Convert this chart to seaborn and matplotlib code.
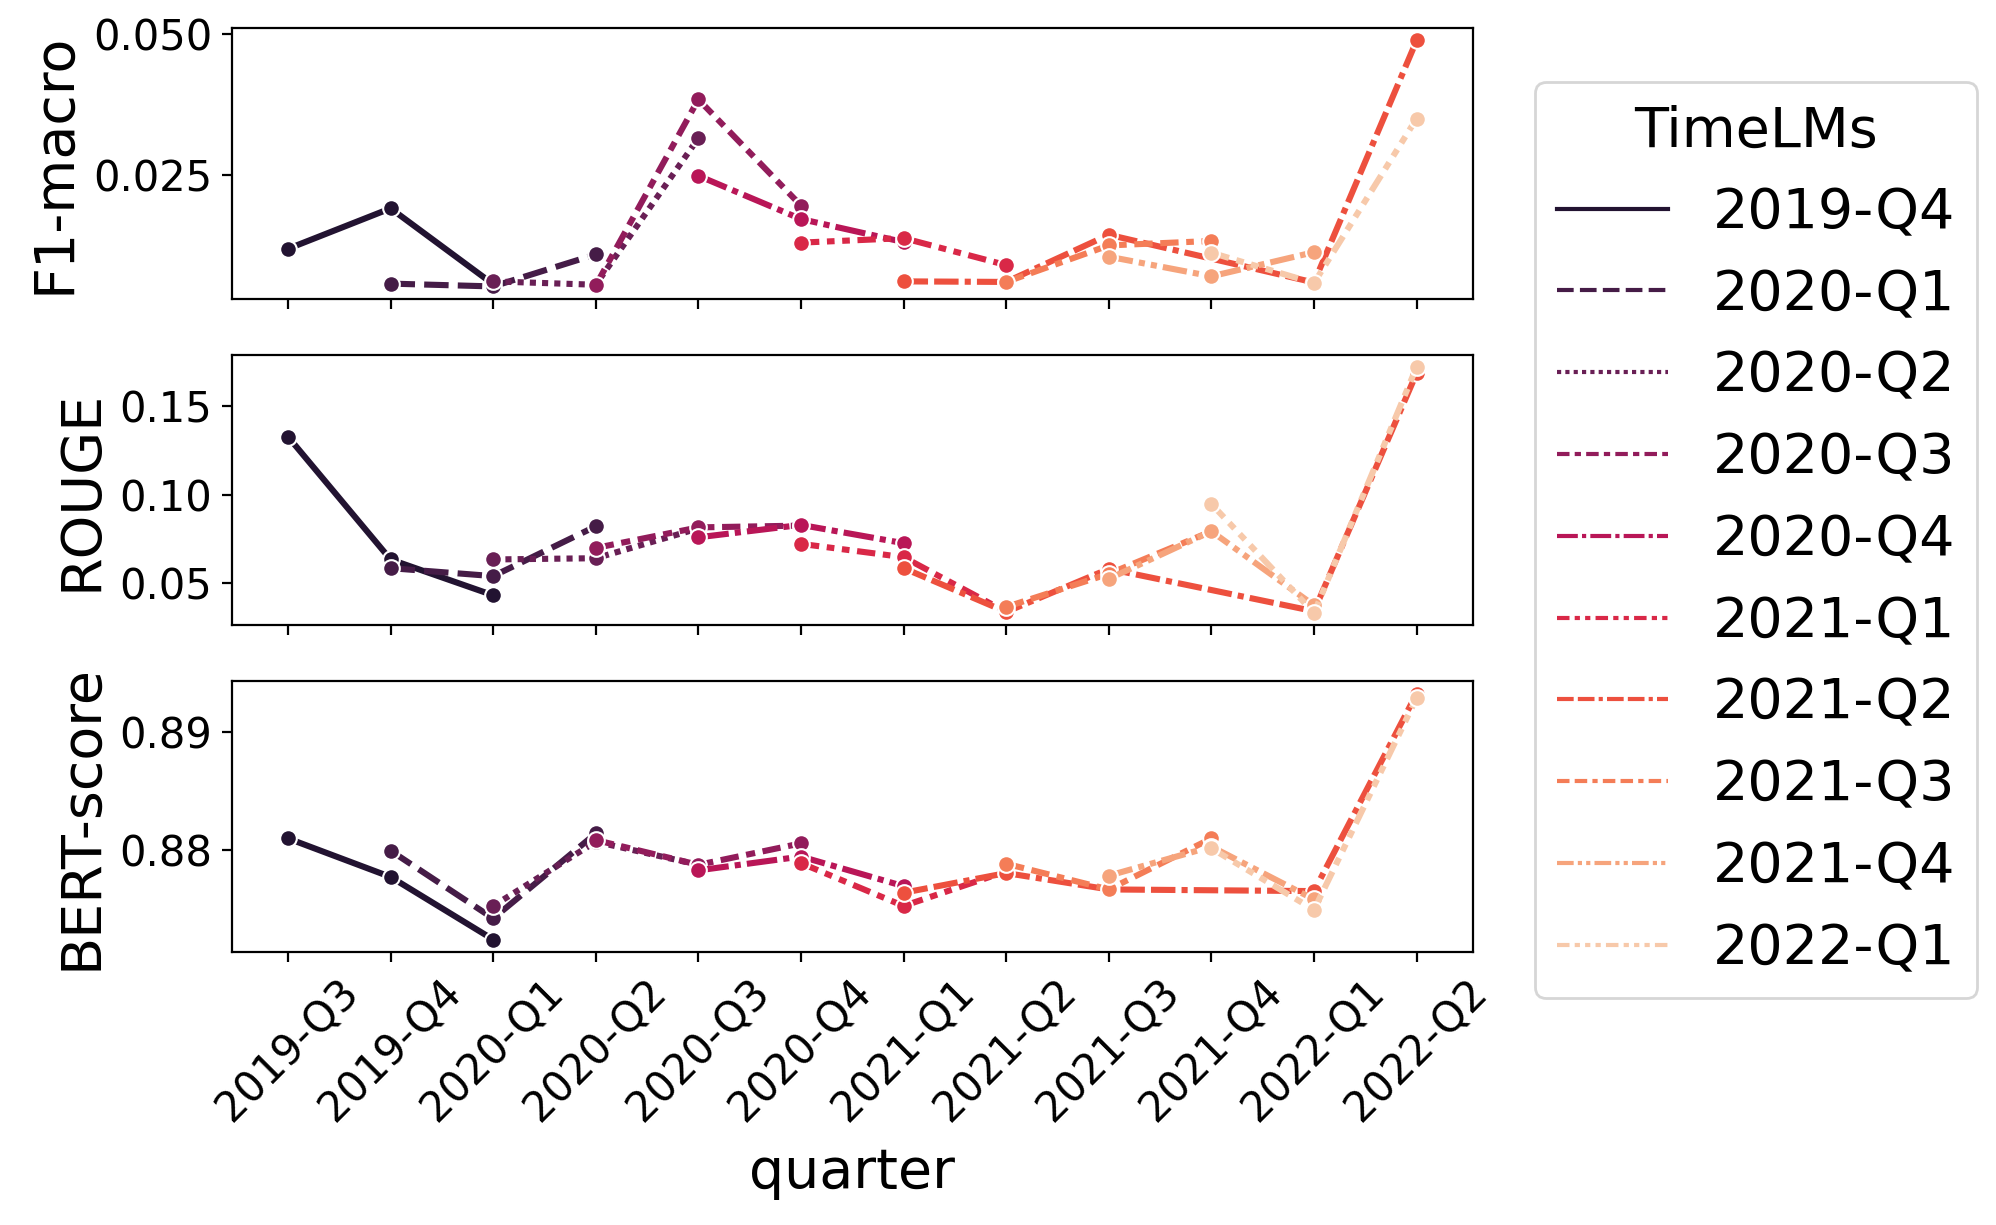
import matplotlib
matplotlib.use("Agg")
import matplotlib.pyplot as plt
import seaborn as sns
import pandas as pd
import numpy as np

# quarters on the x axis
QUARTERS = ['2019-Q3', '2019-Q4', '2020-Q1', '2020-Q2', '2020-Q3', '2020-Q4',
            '2021-Q1', '2021-Q2', '2021-Q3', '2021-Q4', '2022-Q1', '2022-Q2']

# TimeLMs checkpoints (hue / style)
MODELS = ['2019-Q4', '2020-Q1', '2020-Q2', '2020-Q3', '2020-Q4',
          '2021-Q1', '2021-Q2', '2021-Q3', '2021-Q4', '2022-Q1']

# quarters each model was evaluated on
EVAL_QUARTERS = [
    ['2019-Q3', '2019-Q4', '2020-Q1'],
    ['2019-Q4', '2020-Q1', '2020-Q2'],
    ['2020-Q1', '2020-Q2', '2020-Q3'],
    ['2020-Q2', '2020-Q3', '2020-Q4'],
    ['2020-Q3', '2020-Q4', '2021-Q1'],
    ['2020-Q4', '2021-Q1', '2021-Q2'],
    ['2021-Q1', '2021-Q2', '2021-Q3', '2022-Q1', '2022-Q2'],
    ['2021-Q2', '2021-Q3', '2021-Q4'],
    ['2021-Q3', '2021-Q4', '2022-Q1'],
    ['2021-Q4', '2022-Q1', '2022-Q2'],
]

F1_MACRO = [
    [0.0118, 0.0190, 0.0055],
    [0.0056, 0.0051, 0.0108],
    [0.0060, 0.0054, 0.0315],
    [0.0053, 0.0384, 0.0195],
    [0.0248, 0.0171, 0.0130],
    [0.0129, 0.0137, 0.0089],
    [0.0060, 0.0059, 0.0143, 0.0058, 0.0489],
    [0.0059, 0.0124, 0.0132],
    [0.0104, 0.0069, 0.0112],
    [0.0111, 0.0057, 0.0350],
]

ROUGE = [
    [0.1328, 0.0635, 0.0433],
    [0.0586, 0.0541, 0.0822],
    [0.0635, 0.0642, 0.0810],
    [0.0700, 0.0816, 0.0826],
    [0.0760, 0.0830, 0.0727],
    [0.0723, 0.0648, 0.0339],
    [0.0586, 0.0339, 0.0582, 0.0343, 0.1687],
    [0.0367, 0.0554, 0.0794],
    [0.0526, 0.0794, 0.0376],
    [0.0948, 0.0333, 0.1721],
]

BERT_SCORE = [
    [0.88098, 0.87771, 0.87240],
    [0.87994, 0.87419, 0.88140],
    [0.87525, 0.88070, 0.87874],
    [0.88084, 0.87874, 0.88056],
    [0.87827, 0.87944, 0.87693],
    [0.87888, 0.87525, 0.87818],
    [0.87637, 0.87804, 0.87665, 0.87651, 0.89327],
    [0.87883, 0.87665, 0.88098],
    [0.87782, 0.88028, 0.87581],
    [0.88014, 0.87492, 0.89290],
]

# long table
rows = []
for m, qs, f1, rg, bs in zip(MODELS, EVAL_QUARTERS, F1_MACRO, ROUGE, BERT_SCORE):
    for q, a, b, c in zip(qs, f1, rg, bs):
        rows.append({'TimeLMs': m, 'quarter': QUARTERS.index(q),
                     'F1-macro': a, 'ROUGE': b, 'BERT-score': c})
df = pd.DataFrame(rows)

palette = sns.color_palette('rocket', len(MODELS))

fig, axes = plt.subplots(3, 1, figsize=(9.98, 6.125), dpi=200, sharex=True)
fig.subplots_adjust(left=0.116, right=0.738, top=0.977, bottom=0.223, hspace=0.207)

for ax, metric in zip(axes, ['F1-macro', 'ROUGE', 'BERT-score']):
    sns.lineplot(data=df, x='quarter', y=metric, hue='TimeLMs', style='TimeLMs',
                 hue_order=MODELS, style_order=MODELS, palette=palette,
                 marker='o', markeredgecolor='white', linewidth=2.2, ax=ax)
    ax.set_ylabel(metric, fontsize=20)
    ax.tick_params(labelsize=15)

axes[0].set_yticks([0.025, 0.050])
axes[1].set_yticks([0.05, 0.10, 0.15])
axes[2].set_yticks([0.88, 0.89])
axes[0].yaxis.set_major_formatter(matplotlib.ticker.FormatStrFormatter('%.3f'))
axes[1].yaxis.set_major_formatter(matplotlib.ticker.FormatStrFormatter('%.2f'))
axes[2].yaxis.set_major_formatter(matplotlib.ticker.FormatStrFormatter('%.2f'))

axes[2].set_xticks(range(len(QUARTERS)))
axes[2].set_xticklabels(QUARTERS, rotation=45)
axes[2].set_xlabel('quarter', fontsize=20, labelpad=6)

handles, labels = axes[0].get_legend_handles_labels()
for h in handles:
    h.set_marker('')
    h.set_linewidth(1.5)
for ax in axes:
    ax.get_legend().remove()

fig.legend(handles, labels, title='TimeLMs', fontsize=20, title_fontsize=20,
           loc='center left', bbox_to_anchor=(0.755, 0.559))

fig.savefig('out.png', dpi=200)
